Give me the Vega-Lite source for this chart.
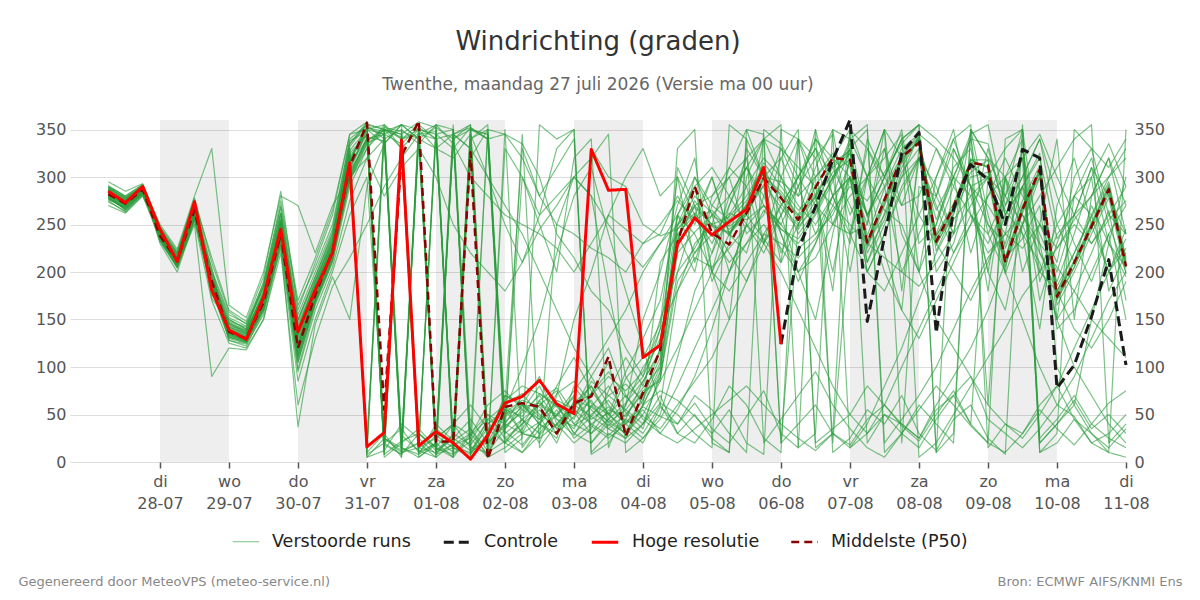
{
"$schema": "https://vega.github.io/schema/vega-lite/v6.json",
"width": 1056, "height": 342,
"autosize": {"type": "none"},
"padding": {"left": 70, "top": 120, "right": 74, "bottom": 138},
"background": "white",
"title": {"text": "Windrichting (graden)", "subtitle": "Twenthe, maandag 27 juli 2026 (Versie ma 00 uur)", "anchor": "middle", "font": "DejaVu Sans", "fontSize": 26, "fontWeight": "normal", "color": "#333333", "subtitleFont": "DejaVu Sans", "subtitleFontSize": 17, "subtitleColor": "#666666", "offset": 26, "subtitlePadding": 22},
"datasets": {
"dagen": [
{"start": "2026-07-28T00:00", "end": "2026-07-29T00:00"},
{"start": "2026-07-30T00:00", "end": "2026-07-31T00:00"},
{"start": "2026-08-01T00:00", "end": "2026-08-02T00:00"},
{"start": "2026-08-03T00:00", "end": "2026-08-04T00:00"},
{"start": "2026-08-05T00:00", "end": "2026-08-06T00:00"},
{"start": "2026-08-07T00:00", "end": "2026-08-08T00:00"},
{"start": "2026-08-09T00:00", "end": "2026-08-10T00:00"}
],
"tijd": [
{"i":1,"t":"2026-07-27T06:00","hr":285,"p50":282,"e":[280,287,276,290,279,284,295,270,283,286,278,281,288,274,285,277,282,291,280,286,283,279,289,275,284,287,282,278,290,283,281,285,277,288,279,284,280,286,282,289]},
{"i":2,"t":"2026-07-27T12:00","hr":273,"p50":272,"e":[270,275,268,280,265,274,285,262,276,271,266,272,277,264,273,269,270,279,268,274,273,267,278,263,272,276,270,266,280,271,271,274,268,278,266,273,269,275,272,277]},
{"i":3,"t":"2026-07-27T18:00","hr":290,"p50":287,"e":[286,290,284,292,283,288,293,280,289,285,282,287,291,281,288,284,285,290,286,287,288,283,290,281,286,289,286,284,292,287,288,287,284,290,283,286,285,289,287,291]},
{"i":4,"t":"2026-07-28T00:00","hr":245,"p50":238,"e":[240,236,242,230,244,238,248,235,243,232,239,245,236,241,240,237,244,233,246,239,242,247,234,240,241,237,243,236,250,239,241,237,243,235,245,239,242,234,240,238]},
{"i":5,"t":"2026-07-28T06:00","hr":211,"p50":212,"e":[215,208,218,200,214,210,222,205,212,206,216,220,209,213,211,207,217,204,219,211,213,220,206,215,212,209,214,208,224,210,213,210,216,207,218,211,214,205,212,209]},
{"i":6,"t":"2026-07-28T12:00","hr":274,"p50":265,"e":[268,262,270,255,272,266,275,258,262,250,264,278,268,260,266,257,271,253,274,263,269,276,259,267,264,261,270,256,280,265,266,262,270,258,272,264,268,256,265,260]},
{"i":7,"t":"2026-07-28T18:00","hr":181,"p50":190,"e":[185,195,178,205,172,190,215,180,198,90,188,210,182,176,192,185,195,170,200,187,193,202,189,183,191,186,194,184,330,189,190,188,194,184,196,186,192,182,189,185]},
{"i":8,"t":"2026-07-29T00:00","hr":139,"p50":137,"e":[140,135,145,128,150,138,160,130,142,120,144,158,133,148,136,128,147,125,152,139,141,155,132,146,137,134,143,131,165,138,138,136,146,132,150,140,142,134,139,135]},
{"i":9,"t":"2026-07-29T06:00","hr":129,"p50":130,"e":[132,128,136,122,140,130,148,125,135,118,138,145,127,142,131,124,139,120,143,133,134,146,126,137,129,128,136,126,152,131,130,128,138,126,140,133,135,127,131,129]},
{"i":10,"t":"2026-07-29T12:00","hr":173,"p50":168,"e":[170,165,180,158,190,168,195,160,175,150,178,185,163,185,167,155,176,150,182,171,173,188,161,177,169,164,174,162,200,168,170,166,178,160,185,172,176,162,169,165]},
{"i":11,"t":"2026-07-29T18:00","hr":245,"p50":240,"e":[250,238,255,232,268,242,285,225,250,220,258,270,236,262,244,230,252,228,262,246,248,275,238,254,241,237,251,234,280,243,245,240,255,232,262,248,252,235,244,238]},
{"i":12,"t":"2026-07-30T00:00","hr":137,"p50":120,"e":[130,112,140,98,155,120,160,85,138,60,145,165,108,150,122,95,132,37,148,127,125,170,115,142,119,110,135,105,270,121,125,118,140,105,150,132,136,112,123,115]},
{"i":13,"t":"2026-07-30T06:00","hr":181,"p50":176,"e":[178,172,190,165,200,176,210,150,185,130,188,205,168,195,178,160,182,145,192,180,179,215,170,186,177,170,184,168,220,176,178,174,190,168,195,180,184,170,177,172]},
{"i":14,"t":"2026-07-30T12:00","hr":220,"p50":222,"e":[225,218,232,210,245,222,260,200,228,185,235,250,212,240,224,205,230,195,238,226,223,265,215,233,221,217,229,214,270,223,224,220,236,212,242,226,230,215,223,218]},
{"i":15,"t":"2026-07-30T18:00","hr":315,"p50":311,"e":[318,305,335,290,340,312,345,260,325,215,330,338,300,322,308,275,320,150,332,312,315,345,295,328,310,302,324,298,300,318,312,306,330,298,335,314,322,300,316,304]},
{"i":16,"t":"2026-07-31T00:00","hr":16,"p50":357,"e":[352,340,358,330,355,8,350,300,345,250,15,348,342,5,350,320,10,290,356,345,352,358,335,350,15,340,5,338,320,355,340,350,10,330,355,20,345,335,352,338]},
{"i":17,"t":"2026-07-31T06:00","hr":31,"p50":55,"e":[345,15,8,350,350,20,335,25,30,290,355,20,338,12,355,340,340,335,350,18,348,25,350,8,350,345,25,352,280,12,10,345,30,355,340,350,5,345,20,350]},
{"i":18,"t":"2026-07-31T12:00","hr":339,"p50":322,"e":[20,330,22,340,345,35,355,15,325,320,28,340,10,40,330,350,15,355,22,8,355,12,342,345,5,335,10,348,310,340,350,20,5,340,10,345,20,355,8,330]},
{"i":19,"t":"2026-07-31T18:00","hr":17,"p50":359,"e":[355,350,30,12,358,10,340,8,5,345,12,355,345,25,20,335,5,15,340,30,350,20,8,30,355,352,15,340,330,345,20,335,350,350,20,15,35,340,345,10]},
{"i":20,"t":"2026-08-01T00:00","hr":32,"p50":21,"e":[340,10,15,5,352,28,330,40,20,355,350,25,348,8,345,12,18,25,352,12,345,355,20,15,12,340,35,5,300,8,5,355,25,330,345,10,15,20,340,20]},
{"i":21,"t":"2026-08-01T06:00","hr":20,"p50":22,"e":[25,18,40,20,12,15,345,22,340,335,8,10,18,30,5,345,350,40,340,25,330,350,355,5,28,345,20,340,250,15,345,15,40,320,350,25,8,5,18,340]},
{"i":22,"t":"2026-08-01T12:00","hr":3,"p50":326,"e":[12,335,28,350,340,5,352,35,10,300,22,340,30,18,320,355,8,60,25,45,352,15,35,28,340,330,8,350,220,330,330,10,15,345,5,350,30,350,25,355]},
{"i":23,"t":"2026-08-01T18:00","hr":28,"p50":3,"e":[35,5,60,345,350,350,340,12,25,280,50,355,8,42,350,10,30,35,345,20,340,10,5,45,18,300,40,345,200,25,20,45,20,300,25,340,50,10,5,30]},
{"i":24,"t":"2026-08-02T00:00","hr":62,"p50":58,"e":[48,52,75,20,345,40,10,60,70,260,40,30,55,20,50,330,65,20,35,38,345,22,15,32,42,270,55,25,180,62,40,60,55,250,70,30,25,35,350,60]},
{"i":25,"t":"2026-08-02T06:00","hr":69,"p50":62,"e":[60,65,55,45,335,70,25,45,62,250,30,345,48,35,62,300,80,10,55,52,320,40,30,18,58,240,30,10,210,72,300,30,100,210,60,45,40,60,15,330]},
{"i":26,"t":"2026-08-02T12:00","hr":86,"p50":58,"e":[40,58,80,60,300,85,355,30,48,240,65,15,72,60,40,260,72,28,45,70,280,55,42,40,62,200,25,35,245,50,250,25,150,260,90,20,65,45,40,280]},
{"i":27,"t":"2026-08-02T18:00","hr":61,"p50":30,"e":[30,35,45,75,240,62,340,55,20,225,78,40,60,48,25,280,58,50,62,45,250,30,65,72,50,160,40,50,270,38,200,250,220,330,40,70,35,80,60,310]},
{"i":28,"t":"2026-08-03T00:00","hr":51,"p50":62,"e":[55,60,38,40,215,50,350,25,65,200,52,62,45,70,80,300,40,75,30,28,240,48,55,85,35,120,60,68,300,58,320,300,280,350,20,150,55,110,30,340]},
{"i":29,"t":"2026-08-03T06:00","hr":329,"p50":69,"e":[330,72,50,58,180,72,8,40,58,230,30,80,85,38,55,320,30,100,48,60,225,65,40,62,70,90,48,45,280,80,340,280,310,10,35,200,90,75,20,20]},
{"i":30,"t":"2026-08-03T12:00","hr":286,"p50":111,"e":[300,105,65,80,160,95,20,52,42,260,45,50,70,25,38,345,55,130,70,42,215,35,28,50,90,60,35,58,250,45,15,180,240,30,75,260,120,50,45,40]},
{"i":31,"t":"2026-08-03T18:00","hr":287,"p50":27,"e":[290,30,42,52,120,68,45,28,30,245,88,35,55,40,60,10,48,160,82,55,200,50,45,70,75,40,25,40,225,62,60,90,180,20,110,300,70,95,30,25]},
{"i":32,"t":"2026-08-04T00:00","hr":110,"p50":73,"e":[250,70,58,35,90,90,30,60,60,230,110,20,78,55,100,25,75,200,65,40,230,72,85,48,95,25,40,65,205,85,150,60,120,40,80,330,45,130,50,60]},
{"i":33,"t":"2026-08-04T06:00","hr":123,"p50":118,"e":[238,110,48,95,150,130,60,75,95,250,145,58,100,30,125,45,85,230,120,62,240,88,115,35,140,50,70,105,230,118,200,210,60,90,140,280,30,170,85,100]},
{"i":34,"t":"2026-08-04T12:00","hr":229,"p50":231,"e":[245,310,40,230,200,235,180,65,260,275,300,40,220,20,250,80,230,250,248,50,280,190,245,60,260,110,30,240,260,232,270,240,30,200,180,300,55,260,120,330]},
{"i":35,"t":"2026-08-04T18:00","hr":257,"p50":290,"e":[262,270,62,300,225,270,215,48,300,255,210,70,242,35,290,120,255,270,280,30,250,220,268,85,220,180,50,260,240,275,320,200,20,260,230,260,90,290,160,350]},
{"i":36,"t":"2026-08-05T00:00","hr":239,"p50":241,"e":[238,190,35,260,260,250,205,30,270,240,270,55,260,50,200,160,265,280,262,15,300,240,250,110,250,220,25,220,200,248,200,280,45,300,250,230,140,310,200,20]},
{"i":37,"t":"2026-08-05T06:00","hr":253,"p50":229,"e":[250,230,20,200,280,240,225,55,255,210,300,30,248,65,270,200,245,300,238,355,240,262,258,150,310,260,10,280,180,242,150,310,80,240,220,270,200,280,240,10]},
{"i":38,"t":"2026-08-05T12:00","hr":266,"p50":262,"e":[270,330,48,250,310,265,248,20,275,230,240,10,262,80,320,230,260,320,272,340,270,255,280,190,290,290,350,310,210,262,300,350,60,220,190,310,250,250,260,340]},
{"i":39,"t":"2026-08-05T18:00","hr":310,"p50":299,"e":[305,300,75,340,340,300,270,8,310,265,260,350,292,60,230,250,300,340,315,20,290,270,310,230,230,320,345,270,240,298,340,300,25,280,240,280,230,220,235,300]},
{"i":40,"t":"2026-08-06T00:00","hr":124,"p50":278,"ctl":124,"e":[280,210,30,300,355,285,250,350,240,245,320,335,268,40,270,225,295,330,290,45,220,245,272,260,300,300,20,250,230,282,20,260,10,330,270,240,200,260,210,320]},
{"i":41,"t":"2026-08-06T06:00","p50":255,"ctl":223,"e":[240,340,15,250,15,260,225,340,200,230,280,300,245,25,300,200,280,310,265,70,260,235,248,290,340,270,40,290,215,258,250,200,340,290,300,190,160,300,250,350]},
{"i":42,"t":"2026-08-06T12:00","p50":289,"ctl":269,"e":[265,280,350,300,30,280,240,20,230,260,350,270,275,12,330,215,300,290,282,95,310,262,268,320,320,250,60,340,235,278,280,150,300,240,330,230,120,340,290,15]},
{"i":43,"t":"2026-08-06T18:00","p50":320,"ctl":318,"e":[300,200,10,20,350,310,280,35,270,295,280,250,305,30,300,250,325,270,312,60,350,300,298,345,250,280,30,320,265,315,180,240,320,260,280,280,80,310,320,30]},
{"i":44,"t":"2026-08-07T00:00","p50":318,"ctl":360,"e":[330,300,25,240,340,325,300,50,315,340,230,240,318,18,200,280,310,250,328,35,240,335,325,15,300,300,15,260,290,328,350,320,350,300,240,330,50,270,300,350]},
{"i":45,"t":"2026-08-07T06:00","p50":231,"ctl":148,"e":[225,250,55,330,300,230,210,80,260,355,340,200,210,45,300,300,220,230,238,15,250,258,228,30,260,200,40,300,275,232,300,260,20,200,300,350,30,230,260,330]},
{"i":46,"t":"2026-08-07T12:00","p50":276,"ctl":237,"e":[270,350,40,290,265,275,250,60,290,20,300,180,262,60,330,320,255,215,288,5,330,300,272,50,300,240,80,350,305,278,220,300,50,240,350,10,60,260,200,300]},
{"i":47,"t":"2026-08-07T18:00","p50":321,"ctl":325,"e":[315,180,70,200,250,320,300,40,330,45,270,220,310,38,240,345,305,200,322,30,270,340,318,40,350,285,120,20,335,322,160,340,30,290,320,30,100,300,160,340]},
{"i":48,"t":"2026-08-08T00:00","p50":336,"ctl":347,"e":[340,320,30,240,200,338,320,25,345,70,320,260,342,22,200,5,330,185,345,55,280,355,340,25,230,320,170,290,355,342,330,200,15,320,260,60,140,345,130,355]},
{"i":49,"t":"2026-08-08T06:00","p50":232,"ctl":136,"e":[230,290,12,280,150,228,265,55,200,100,240,300,238,50,300,20,222,210,235,80,330,10,232,60,250,255,220,280,340,238,280,250,45,270,230,40,180,330,170,10]},
{"i":50,"t":"2026-08-08T12:00","p50":269,"ctl":266,"e":[260,240,45,330,120,265,300,70,230,140,290,340,268,75,350,50,262,240,265,60,300,330,268,90,310,300,255,340,320,272,240,300,70,220,200,20,220,290,210,30]},
{"i":51,"t":"2026-08-08T18:00","p50":315,"ctl":313,"e":[318,350,60,290,90,315,340,90,290,180,340,355,305,40,260,80,300,270,312,38,220,290,318,120,330,345,280,290,290,318,320,280,40,250,170,350,260,260,250,350]},
{"i":52,"t":"2026-08-09T00:00","p50":312,"ctl":297,"e":[310,260,25,180,60,312,335,45,300,215,240,15,318,20,220,110,305,300,300,20,280,250,318,160,250,355,300,200,270,310,60,200,300,330,210,320,240,230,280,320]},
{"i":53,"t":"2026-08-09T06:00","p50":210,"ctl":250,"e":[215,200,8,300,40,210,260,30,250,240,280,40,225,10,240,140,198,330,205,340,320,215,215,210,230,270,265,300,240,210,300,160,280,260,260,280,200,270,300,300]},
{"i":54,"t":"2026-08-09T12:00","p50":266,"ctl":329,"e":[270,330,355,240,25,268,290,15,290,260,350,30,275,30,330,175,250,350,265,350,280,235,268,250,290,300,240,320,225,262,200,250,320,290,300,250,150,320,260,340]},
{"i":55,"t":"2026-08-09T18:00","p50":308,"ctl":320,"e":[305,230,20,140,50,308,320,35,325,230,220,60,312,55,200,200,300,10,305,25,250,270,300,280,170,340,210,190,250,305,250,310,20,240,340,200,100,345,220,10]},
{"i":56,"t":"2026-08-10T00:00","p50":174,"ctl":78,"e":[170,150,40,270,80,175,235,60,150,205,190,80,165,35,250,225,185,20,180,45,210,140,172,310,230,250,150,240,225,178,340,100,40,200,280,180,60,300,180,30]},
{"i":57,"t":"2026-08-10T06:00","p50":210,"ctl":102,"e":[205,280,65,320,120,210,260,48,180,180,240,45,200,18,210,255,220,45,212,70,300,160,205,340,280,280,100,260,250,210,150,60,60,260,230,220,90,260,140,350]},
{"i":58,"t":"2026-08-10T12:00","p50":248,"ctl":153,"e":[250,320,35,250,160,248,280,20,220,150,300,20,240,40,270,280,258,30,252,40,330,200,245,355,260,300,70,310,230,250,280,150,30,310,190,260,130,230,120,330]},
{"i":59,"t":"2026-08-10T18:00","p50":287,"ctl":213,"e":[290,250,50,200,200,285,320,10,265,130,180,30,278,62,230,300,295,15,292,25,260,240,282,20,200,335,40,230,255,288,320,230,10,280,240,300,170,260,150,310]},
{"i":60,"t":"2026-08-11T00:00","p50":206,"ctl":102,"e":[210,200,30,235,245,205,270,5,170,110,220,50,198,75,195,320,215,35,212,15,240,150,205,40,225,290,20,205,275,208,240,300,350,240,270,330,200,290,190,340]}
]
},
"layer": [
{
"data": {"name": "dagen"},
"mark": {"type": "rect", "fill": "#000000", "fillOpacity": 0.067},
"encoding": {
"x": {"field": "start", "type": "temporal", "title": null,
"scale": {"domain": [{"year": 2026, "month": "Jul", "date": 26, "hours": 16, "minutes": 42}, {"year": 2026, "month": "Aug", "date": 11}]}},
"x2": {"field": "end"}
}
},
{
"data": {"name": "tijd"},
"transform": [
{"flatten": ["e"]},
{"window": [{"op": "row_number", "as": "m"}], "groupby": ["i"]}
],
"mark": {"type": "line", "strokeJoin": "round"},
"encoding": {
"x": {"field": "t", "type": "temporal", "title": null, "scale": {"domain": [{"year": 2026, "month": "Jul", "date": 26, "hours": 16, "minutes": 42}, {"year": 2026, "month": "Aug", "date": 11}]},
"axis": {"values": [{"year":2026,"month":"Jul","date":28},{"year":2026,"month":"Jul","date":29},{"year":2026,"month":"Jul","date":30},{"year":2026,"month":"Jul","date":31},{"year":2026,"month":"Aug","date":1},{"year":2026,"month":"Aug","date":2},{"year":2026,"month":"Aug","date":3},{"year":2026,"month":"Aug","date":4},{"year":2026,"month":"Aug","date":5},{"year":2026,"month":"Aug","date":6},{"year":2026,"month":"Aug","date":7},{"year":2026,"month":"Aug","date":8},{"year":2026,"month":"Aug","date":9},{"year":2026,"month":"Aug","date":10},{"year":2026,"month":"Aug","date":11}],
"labelExpr": "[['zo','ma','di','wo','do','vr','za'][day(datum.value)], timeFormat(datum.value, '%d-%m')]",
"grid": false, "domain": false, "ticks": true, "tickSize": 6, "tickWidth": 1.5, "tickColor": "#555555",
"labelFontSize": 16, "labelColor": "#555555", "labelPadding": 5, "labelLineHeight": 22, "labelFlush": false, "labelOverlap": false, "title": null}},
"y": {"field": "e", "type": "quantitative", "scale": {"domain": [0, 360], "nice": false, "zero": false},
"axis": {"orient": "left", "values": [0,50,100,150,200,250,300,350], "grid": true, "gridColor": "#dddddd", "domain": false, "ticks": false, "labelFontSize": 16, "labelColor": "#555555", "labelPadding": 4,
"title": "Gegenereerd door MeteoVPS (meteo-service.nl)", "titleAngle": 0, "titleAlign": "left", "titleBaseline": "alphabetic", "titleX": -52, "titleY": 465, "titleFontSize": 13, "titleColor": "#888888", "titleFontWeight": "normal"}},
"detail": {"field": "m", "type": "nominal"},
"order": {"field": "t", "type": "temporal"},
"color": {"datum": "Verstoorde runs", "type": "nominal", "scale": {"domain": ["Verstoorde runs","Controle","Hoge resolutie","Middelste (P50)"], "range": ["#2a9d3c","#1a1a1a","#ff0000","#8b0000"]}, "legend": {"title": null}},
"strokeDash": {"datum": "Verstoorde runs", "type": "nominal", "scale": {"domain": ["Verstoorde runs","Controle","Hoge resolutie","Middelste (P50)"], "range": [[1,0],[10,5],[1,0],[8,5]]}, "legend": {"title": null}},
"strokeWidth": {"datum": "Verstoorde runs", "type": "nominal", "scale": {"type": "ordinal", "domain": ["Verstoorde runs","Controle","Hoge resolutie","Middelste (P50)"], "range": [1.2,3,3,2.5]}, "legend": {"title": null}},
"opacity": {"datum": "Verstoorde runs", "type": "nominal", "scale": {"type": "ordinal", "domain": ["Verstoorde runs","Controle","Hoge resolutie","Middelste (P50)"], "range": [0.62,1,1,1]}, "legend": {"title": null}}
}
},
{
"data": {"name": "tijd"},
"mark": {"type": "line", "strokeJoin": "round"},
"encoding": {
"x": {"field": "t", "type": "temporal", "title": null, "scale": {"domain": [{"year": 2026, "month": "Jul", "date": 26, "hours": 16, "minutes": 42}, {"year": 2026, "month": "Aug", "date": 11}]}},
"y": {"field": "p50", "type": "quantitative", "axis": null, "scale": {"domain": [0, 360], "nice": false, "zero": false}},
"color": {"datum": "Middelste (P50)", "type": "nominal", "scale": {"domain": ["Verstoorde runs","Controle","Hoge resolutie","Middelste (P50)"], "range": ["#2a9d3c","#1a1a1a","#ff0000","#8b0000"]}, "legend": {"title": null}},
"strokeDash": {"datum": "Middelste (P50)", "type": "nominal", "scale": {"domain": ["Verstoorde runs","Controle","Hoge resolutie","Middelste (P50)"], "range": [[1,0],[10,5],[1,0],[8,5]]}, "legend": {"title": null}},
"strokeWidth": {"datum": "Middelste (P50)", "type": "nominal", "scale": {"type": "ordinal", "domain": ["Verstoorde runs","Controle","Hoge resolutie","Middelste (P50)"], "range": [1.2,3,3,2.5]}, "legend": {"title": null}},
"opacity": {"datum": "Middelste (P50)", "type": "nominal", "scale": {"type": "ordinal", "domain": ["Verstoorde runs","Controle","Hoge resolutie","Middelste (P50)"], "range": [0.62,1,1,1]}, "legend": {"title": null}}
}
},
{
"data": {"name": "tijd"},
"transform": [{"filter": "isValid(datum.ctl)"}],
"mark": {"type": "line", "strokeJoin": "round"},
"encoding": {
"x": {"field": "t", "type": "temporal", "title": null, "scale": {"domain": [{"year": 2026, "month": "Jul", "date": 26, "hours": 16, "minutes": 42}, {"year": 2026, "month": "Aug", "date": 11}]}},
"y": {"field": "ctl", "type": "quantitative", "scale": {"domain": [0, 360], "nice": false, "zero": false},
"axis": {"orient": "right", "values": [0,50,100,150,200,250,300,350], "grid": false, "domain": false, "ticks": false, "labelFontSize": 16, "labelColor": "#555555", "labelPadding": 8,
"title": "Bron: ECMWF AIFS/KNMI Ens", "titleAngle": 0, "titleAlign": "right", "titleBaseline": "alphabetic", "titleX": 56, "titleY": 465, "titleFontSize": 13, "titleColor": "#888888", "titleFontWeight": "normal"}},
"color": {"datum": "Controle", "type": "nominal", "scale": {"domain": ["Verstoorde runs","Controle","Hoge resolutie","Middelste (P50)"], "range": ["#2a9d3c","#1a1a1a","#ff0000","#8b0000"]}, "legend": {"title": null}},
"strokeDash": {"datum": "Controle", "type": "nominal", "scale": {"domain": ["Verstoorde runs","Controle","Hoge resolutie","Middelste (P50)"], "range": [[1,0],[10,5],[1,0],[8,5]]}, "legend": {"title": null}},
"strokeWidth": {"datum": "Controle", "type": "nominal", "scale": {"type": "ordinal", "domain": ["Verstoorde runs","Controle","Hoge resolutie","Middelste (P50)"], "range": [1.2,3,3,2.5]}, "legend": {"title": null}},
"opacity": {"datum": "Controle", "type": "nominal", "scale": {"type": "ordinal", "domain": ["Verstoorde runs","Controle","Hoge resolutie","Middelste (P50)"], "range": [0.62,1,1,1]}, "legend": {"title": null}}
}
},
{
"data": {"name": "tijd"},
"transform": [{"filter": "isValid(datum.hr)"}],
"mark": {"type": "line", "strokeJoin": "round"},
"encoding": {
"x": {"field": "t", "type": "temporal", "title": null, "scale": {"domain": [{"year": 2026, "month": "Jul", "date": 26, "hours": 16, "minutes": 42}, {"year": 2026, "month": "Aug", "date": 11}]}},
"y": {"field": "hr", "type": "quantitative", "axis": null, "scale": {"domain": [0, 360], "nice": false, "zero": false}},
"color": {"datum": "Hoge resolutie", "type": "nominal", "scale": {"domain": ["Verstoorde runs","Controle","Hoge resolutie","Middelste (P50)"], "range": ["#2a9d3c","#1a1a1a","#ff0000","#8b0000"]}, "legend": {"title": null}},
"strokeDash": {"datum": "Hoge resolutie", "type": "nominal", "scale": {"domain": ["Verstoorde runs","Controle","Hoge resolutie","Middelste (P50)"], "range": [[1,0],[10,5],[1,0],[8,5]]}, "legend": {"title": null}},
"strokeWidth": {"datum": "Hoge resolutie", "type": "nominal", "scale": {"type": "ordinal", "domain": ["Verstoorde runs","Controle","Hoge resolutie","Middelste (P50)"], "range": [1.2,3,3,2.5]}, "legend": {"title": null}},
"opacity": {"datum": "Hoge resolutie", "type": "nominal", "scale": {"type": "ordinal", "domain": ["Verstoorde runs","Controle","Hoge resolutie","Middelste (P50)"], "range": [0.62,1,1,1]}, "legend": {"title": null}}
}
}
],
"resolve": {"axis": {"y": "independent"}},
"config": {
"font": "DejaVu Sans",
"view": {"stroke": null},
"axis": {"labelFont": "DejaVu Sans", "titleFont": "DejaVu Sans"},
"legend": {"orient": "none", "legendX": 162, "legendY": 407, "direction": "horizontal", "symbolType": "stroke", "symbolSize": 700, "labelFont": "DejaVu Sans", "labelFontSize": 17.5, "labelColor": "#222222", "labelOffset": 12, "columnPadding": 26, "padding": 0}
}
}
